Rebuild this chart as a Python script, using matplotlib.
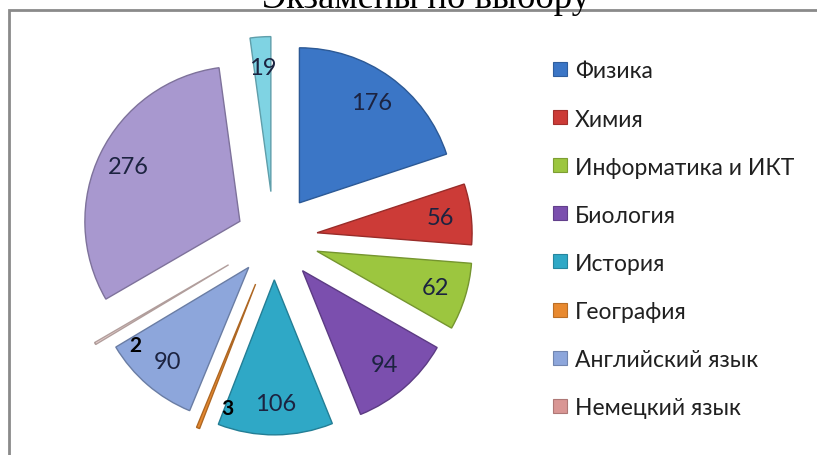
import matplotlib
matplotlib.use("Agg")
import matplotlib.pyplot as plt
from matplotlib.patches import Rectangle
import matplotlib.colors as mcolors

# ---- data ----
categories = ["Физика", "Химия", "Информатика и ИКТ", "Биология", "История",
              "География", "Английский язык", "Немецкий язык",
              "Обществознание", "Литература"]
values = [176, 56, 62, 94, 106, 3, 90, 2, 276, 19]
legend_count = 8
title = "Экзамены по выбору"

colors = ["#3b76c6", "#cc3b37", "#9cc63f", "#7b4fae", "#2fa8c6",
          "#e8892f", "#8da6db", "#ecd2d0", "#a898cf", "#7fd3e3"]
explode = [0.28, 0.28, 0.29, 0.28, 0.27, 0.32, 0.25, 0.34, 0.245, 0.30]

W, H = 817, 456
DPI = 100
fig = plt.figure(figsize=(W / DPI, H / DPI), dpi=DPI)
fig.patch.set_facecolor("white")

# pie axes: data units = pie radius, centre at pixel (272, 239)
cx, cy, R = 274, 239, 155
ax = fig.add_axes([0, 0, 1, 1])

def darker(c, f=0.75):
    r, g, b = mcolors.to_rgb(c)
    return (r * f, g * f, b * f)

wedges, texts = ax.pie(values, colors=colors, explode=explode,
                       startangle=90, counterclock=False, radius=1,
                       labels=[str(v) for v in values], labeldistance=0.8,
                       textprops=dict(fontsize=17, color="#1c2340",
                                      family=["Lato", "DejaVu Sans"],
                                      ha="center", va="center"))
for w, c in zip(wedges, colors):
    w.set_edgecolor(darker(c))
    w.set_linewidth(1.0)
# nudge the two tiny-slice labels (pixel offsets)
nudges = {5: (18, -9), 7: (13, -17)}
for i, (t, v) in enumerate(zip(texts, values)):
    if v < 5:
        t.set_color("black")
        t.set_fontweight("bold")
        t.set_fontsize(15)
    if i in nudges:
        dx, dy = nudges[i]
        x, y = t.get_position()
        t.set_position((x + dx / R, y + dy / R))

ax.set_xlim((0 - cx) / R, (W - cx) / R)
ax.set_ylim((cy - H) / R, cy / R)
ax.set_aspect("auto")
ax.axis("off")

# frame
fig.patches.append(Rectangle((8.5 / W, -0.1), 1.2, (H - 11) / H + 0.1,
                             transform=fig.transFigure, fill=False,
                             edgecolor="#8a8a8a", linewidth=2.0))

# title (partly cut off at top)
fig.text(426 / W, 1 - 8 / H, title, ha="center", va="baseline",
         fontsize=26.5, family=["Liberation Serif", "DejaVu Serif"],
         color="black")

# legend
y0, pitch = 70, 48.1
for i in range(legend_count):
    y = y0 + pitch * i
    fig.patches.append(Rectangle((553 / W, 1 - (y + 7) / H), 14 / W, 14 / H,
                                 transform=fig.transFigure,
                                 facecolor=colors[i] if i != 7 else "#d99694",
                                 edgecolor=darker(colors[i] if i != 7 else "#d99694", 0.8),
                                 linewidth=0.8))
    fig.text(575 / W, 1 - y / H, categories[i], ha="left", va="center_baseline",
             fontsize=16.5, family=["Lato", "DejaVu Sans"], color="#202020")

fig.savefig("out.png", dpi=DPI, facecolor="white")
